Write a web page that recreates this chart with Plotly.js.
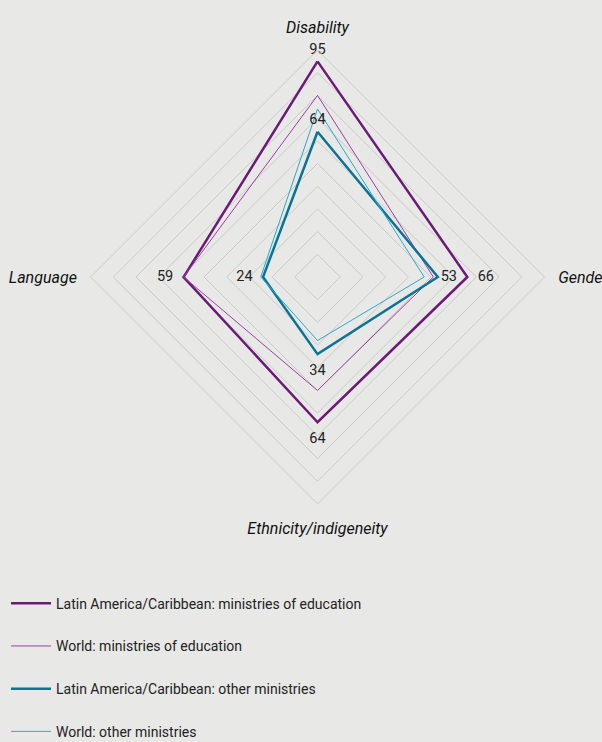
<!DOCTYPE html>
<html>
<head>
<meta charset="utf-8">
<script src="https://cdn.plot.ly/plotly-3.0.1.min.js"></script>
<style>html,body{margin:0;padding:0;background:#e8e9e7;}#chart{width:602px;height:742px;}</style>
</head>
<body>
<div id="chart"></div>
<script>
const categories = ['Disability', 'Gender', 'Ethnicity/indigeneity', 'Language'];
const seriesNames = [
  'Latin America/Caribbean: ministries of education',
  'World: ministries of education',
  'Latin America/Caribbean: other ministries',
  'World: other ministries'
];
const lacEducation = [95, 66, 64, 59];
const worldEducation = [80, 51, 50, 59];
const lacOther = [64, 53, 34, 24];
const worldOther = [74, 47, 28, 25];
const lacEducationLabels = ['95', '66', '64', '59'];
const lacOtherLabels = ['64', '53', '34', '24'];

const colors = ['#6b1a77', '#9a3fa0', '#0b7394', '#2aa8c9'];
const widths = [2.5, 1, 2.5, 1];
const labelPos = ['top center', 'middle right', 'bottom center', 'middle left'];
// invisible marker sizes set the gap between each value label and its point
const labelGaps = [[5, 15, 15, 15], null, [5, 3, 15, 15], null];

function closed(a) { return a.concat([a[0]]); }

const values = [lacEducation, worldEducation, lacOther, worldOther];
const labels = [lacEducationLabels, null, lacOtherLabels, null];

const traces = values.map((v, i) => ({
  type: 'scatterpolar',
  r: closed(v),
  theta: closed(categories),
  name: seriesNames[i],
  mode: 'lines',
  line: {color: colors[i], width: widths[i]},
  legendgroup: 'g' + i,
  hoverinfo: 'skip'
}));
labels.forEach((lab, i) => {
  if (!lab) return;
  traces.push({
    type: 'scatterpolar',
    r: values[i],
    theta: categories,
    mode: 'markers+text',
    marker: {size: labelGaps[i], opacity: 0},
    text: lab,
    textposition: labelPos,
    textfont: {family: 'Roboto, sans-serif', size: 14.5, color: '#222'},
    showlegend: false,
    hoverinfo: 'skip'
  });
});

const layout = {
  width: 602,
  height: 742,
  paper_bgcolor: '#e8e9e7',
  plot_bgcolor: '#e8e9e7',
  margin: {l: 0, r: 0, t: 0, b: 0, autoexpand: false},
  showlegend: true,
  font: {family: 'Roboto, sans-serif', color: '#222'},
  polar: {
    bgcolor: '#e8e9e7',
    gridshape: 'linear',
    domain: {x: [0.1503, 0.9046], y: [0.3208, 0.9326]},
    radialaxis: {
      range: [0, 100],
      dtick: 10,
      showticklabels: false,
      ticks: '',
      showline: false,
      gridcolor: '#c9cac8',
      gridwidth: 1
    },
    angularaxis: {
      rotation: 90,
      direction: 'clockwise',
      showgrid: false,
      showline: true,
      linecolor: '#c9cac8',
      linewidth: 1,
      ticks: 'outside',
      ticklen: 10,
      tickcolor: 'rgba(0,0,0,0)',
      tickfont: {family: 'Roboto, sans-serif', size: 16, style: 'italic', color: '#111'}
    }
  },
  legend: {
    x: 0.01,
    y: 0.208,
    xanchor: 'left',
    yanchor: 'top',
    traceorder: 'grouped',
    tracegroupgap: 21.5,
    itemwidth: 40,
    font: {family: 'Roboto, sans-serif', size: 14, color: '#222'},
    bgcolor: 'rgba(0,0,0,0)'
  }
};

Plotly.newPlot('chart', traces, layout, {displayModeBar: false, staticPlot: true});
</script>
</body>
</html>
